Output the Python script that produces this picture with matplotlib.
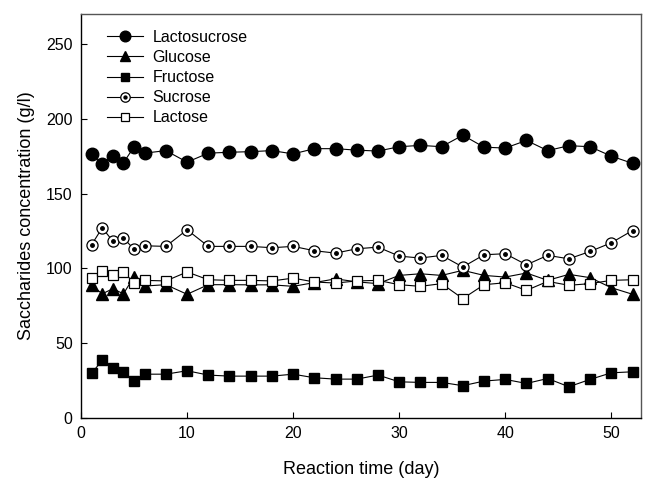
import matplotlib
matplotlib.use("Agg")
import matplotlib.pyplot as plt
from matplotlib.legend_handler import HandlerTuple

plt.rcParams['font.family'] = ['Liberation Sans', 'DejaVu Sans']

# reaction time (day)
days = [1, 2, 3, 4, 5, 6, 8, 10, 12, 14, 16, 18, 20, 22, 24, 26, 28,
        30, 32, 34, 36, 38, 40, 42, 44, 46, 48, 50, 52]

# concentrations (g/l)
lactosucrose = [176.5, 170, 175.3, 170.5, 181.3, 177, 178.7, 171, 177, 177.6, 178, 178.7, 176.5,
                180, 180, 179, 178.4, 181.3, 182.2, 181.3, 189, 181, 180.4, 185.5, 178.7, 182,
                181.3, 175, 170.2]
glucose = [88.7, 83, 86.4, 83, 94.5, 88.2, 89.1, 82.7, 89.1, 89.1, 89, 89, 88,
           90.5, 93, 91, 89.8, 95.3, 96.4, 95.3, 98.7, 95.3, 94.2, 96.9, 92, 96,
           93.8, 87.1, 82.7]
fructose = [29.8, 38.7, 33.1, 30.9, 24.9, 29.3, 29.3, 31.6, 28.7, 28, 28, 28, 29.3,
            26.9, 26, 26, 28.7, 24.2, 23.8, 23.8, 21.6, 24.7, 25.8, 23.1, 26.4, 20.9,
            25.8, 30.2, 30.9]
sucrose = [115.8, 127.1, 118.2, 120.4, 112.7, 115.1, 114.7, 125.8, 114.7, 114.7, 114.7, 113.8, 114.7,
           111.8, 110.2, 113.1, 114.2, 108.2, 106.9, 108.7, 100.9, 109.1, 109.8, 102.4, 108.7, 106.4,
           111.3, 117.1, 125.3]
lactose = [93.5, 98.2, 95.3, 97.6, 90.4, 92, 91.6, 97.6, 92.4, 92, 92, 91.6, 93.5,
           90.9, 90.2, 91.6, 92, 89.1, 88, 89.8, 79.8, 89.1, 90.4, 85.3, 91.3, 88.7,
           89.8, 92, 92.4]

fig = plt.figure(figsize=(6.45, 4.79), dpi=100)
ax = fig.add_axes([0.1256, 0.1273, 0.8682, 0.8435])

lw = 0.8
h_glu, = ax.plot(days, glucose, '-^', color='black', lw=lw, ms=8, mfc='black', mec='black')
h_fru, = ax.plot(days, fructose, '-s', color='black', lw=lw, ms=7.5, mfc='black', mec='black')
h_lac, = ax.plot(days, lactose, '-s', color='black', lw=lw, ms=7.5, mfc='white', mec='black', mew=0.9)
h_suc, = ax.plot(days, sucrose, '-o', color='black', lw=lw, ms=8, mfc='white', mec='black', mew=0.9)
h_dot, = ax.plot(days, sucrose, 'o', color='black', ms=2.5, mec='black', ls='none')
h_ls, = ax.plot(days, lactosucrose, '-o', color='black', lw=lw, ms=9, mfc='black', mec='black')

ax.set_xlim(0, 52.8)
ax.set_ylim(0, 270)
ax.set_xticks([0, 10, 20, 30, 40, 50])
ax.set_yticks([0, 50, 100, 150, 200, 250])
ax.tick_params(direction='in', length=4, width=0.8, labelsize=11.5, pad=6)
for s in ['left', 'bottom']:
    ax.spines[s].set_color('black')
for s in ['top', 'right']:
    ax.spines[s].set_color('#555555')
for s in ax.spines.values():
    s.set_linewidth(1.0)

ax.set_xlabel('Reaction time (day)', fontsize=13, labelpad=14)
ax.set_ylabel('Saccharides concentration (g/l)', fontsize=13, labelpad=8)

ax.legend([h_ls, h_glu, h_fru, (h_suc, h_dot), h_lac],
          ['Lactosucrose', 'Glucose', 'Fructose', 'Sucrose', 'Lactose'],
          handler_map={tuple: HandlerTuple(ndivide=1, pad=0)},
          loc='upper left', bbox_to_anchor=(0.021, 0.996), frameon=False,
          fontsize=11.5, handlelength=2.25, handletextpad=0.6, labelspacing=0.32,
          markerscale=0.85)

fig.savefig('out.png', dpi=100)
